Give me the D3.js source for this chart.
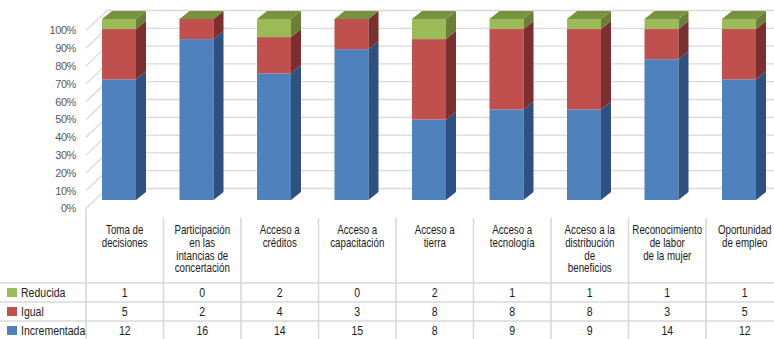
<!DOCTYPE html>
<html><head><meta charset="utf-8">
<script src="https://cdn.jsdelivr.net/npm/d3@7/dist/d3.min.js"></script>
<style>body{margin:0;background:#fff}svg{display:block}</style>
</head><body>
<svg id="c" width="774" height="339"></svg>
<script>
const categories = [
  ["Toma de","decisiones"],
  ["Participación","en las","intancias de","concertación"],
  ["Acceso a","créditos"],
  ["Acceso a","capacitación"],
  ["Acceso a","tierra"],
  ["Acceso a","tecnología"],
  ["Acceso a la","distribución","de","beneficios"],
  ["Reconocimiento","de labor","de la mujer"],
  ["Oportunidad","de empleo"]
];
const reducida     = [1, 0, 2, 0, 2, 1, 1, 1, 1];
const igual        = [5, 2, 4, 3, 8, 8, 8, 3, 5];
const incrementada = [12,16,14,15, 8, 9, 9,14,12];
const seriesNames  = ["Incrementada","Igual","Reducida"];
const yTicks = [0,0.1,0.2,0.3,0.4,0.5,0.6,0.7,0.8,0.9,1];
const yTickLabels = ["0%","10%","20%","30%","40%","50%","60%","70%","80%","90%","100%"];

const colors = {
  Incrementada: {front:"#4f81bd", side:"#2e5181", top:"#3e6aa0"},
  Igual:        {front:"#c0504d", side:"#7b2f2e", top:"#9a3c3a"},
  Reducida:     {front:"#9bbb59", side:"#6b7f38", top:"#77933c"}
};

const svg = d3.select("#c");
const n = categories.length;
const x = d3.scaleBand().domain(d3.range(n)).range([86, 86 + 77.5*n]);
const yLab = d3.scaleLinear().domain([0,1]).range([208.5, 30.5]);
const yBar = d3.scaleLinear().domain([0,1]).range([200, 19]);
const wallDx = 21, wallDy = -20;
const dx = 10, dy = -8;
const grid = "#d9d9d9";

// gridlines: side wall + back wall
const g = svg.append("g");
yTicks.forEach(t => {
  const y0 = yLab(t);
  g.append("line").attr("x1",86).attr("y1",y0).attr("x2",86+wallDx).attr("y2",y0+wallDy)
    .attr("stroke",grid).attr("stroke-width",1.3);
  g.append("line").attr("x1",86+wallDx).attr("y1",y0+wallDy).attr("x2",774).attr("y2",y0+wallDy)
    .attr("stroke",grid).attr("stroke-width",1.3);
});
svg.append("g").selectAll("text").data(yTicks).join("text")
  .attr("x",76).attr("y",d=>yLab(d)).attr("dy","0.35em")
  .attr("text-anchor","end").attr("font-family","Liberation Sans, Arial, sans-serif")
  .attr("font-size",11).attr("fill","#595959").attr("letter-spacing","-0.4")
  .text((d,i)=>yTickLabels[i]);

// bars
const data = categories.map((c,i)=>{
  const vals = {Incrementada:incrementada[i], Igual:igual[i], Reducida:reducida[i]};
  const tot = incrementada[i]+igual[i]+reducida[i];
  let acc = 0;
  return seriesNames.map(s=>{
    const seg = {s, i, y0:acc/tot, y1:(acc+vals[s])/tot};
    acc += vals[s];
    return seg;
  });
});
const bw = 34;
const bars = svg.append("g");
data.forEach((segs,i)=>{
  const bx = x(i) + 16;
  segs.forEach((seg,k)=>{
    const yt = yBar(seg.y1), yb = yBar(seg.y0);
    const c = colors[seg.s];
    if (yb - yt > 0) {
      bars.append("rect").attr("x",bx).attr("y",yt).attr("width",bw).attr("height",yb-yt)
        .attr("fill",c.front);
      bars.append("path").attr("d",
        `M${bx+bw},${yb} L${bx+bw+dx},${yb+dy} L${bx+bw+dx},${yt+dy} L${bx+bw},${yt} Z`)
        .attr("fill",c.side);
    }
    if (k === segs.length-1) {
      bars.append("path").attr("d",
        `M${bx},${yt} L${bx+dx},${yt+dy} L${bx+bw+dx},${yt+dy} L${bx+bw},${yt} Z`)
        .attr("fill",c.top);
    }
  });
});

// data table
const tline = "#d9d9d9";
const font = "'Liberation Sans', Arial, sans-serif";
const sx = 0.78;
function ntext(parent, tx, ty, str, anchor, fs){
  return parent.append("g").attr("transform",`translate(${tx},${ty}) scale(${sx},1)`)
    .append("text").attr("x",0).attr("y",0).attr("text-anchor",anchor)
    .attr("font-family",font).attr("font-size",fs).attr("fill","#1a1a1a").text(str);
}
const tb = svg.append("g");
const rowTops = [283, 302, 321];
rowTops.forEach(y=>{
  tb.append("line").attr("x1",0).attr("x2",774).attr("y1",y).attr("y2",y)
    .attr("stroke",tline).attr("stroke-width",1.6);
});
d3.range(n+1).forEach(k=>{
  const xx = 86 + 77.5*k;
  tb.append("line").attr("x1",xx).attr("x2",xx).attr("y1",k===0?209:218).attr("y2",339)
    .attr("stroke",tline).attr("stroke-width",1.6);
});
categories.forEach((lines,i)=>{
  const cx = x(i) + x.bandwidth()/2;
  lines.forEach((ln,j)=>{
    ntext(tb, cx, 234 + j*12.8, ln, "middle", 12.5);
  });
});
const rows = [
  {name:"Reducida", vals:reducida},
  {name:"Igual", vals:igual},
  {name:"Incrementada", vals:incrementada}
];
rows.forEach((r,ri)=>{
  const yb = rowTops[ri] + 14.2;
  tb.append("rect").attr("x",7).attr("y",rowTops[ri]+5).attr("width",10).attr("height",9)
    .attr("fill",colors[r.name].front);
  ntext(tb, 21, yb, r.name, "start", 13.5);
  r.vals.forEach((v,i)=>{
    ntext(tb, x(i)+x.bandwidth()/2, yb, String(v), "middle", 13.5);
  });
});
</script>
</body></html>
